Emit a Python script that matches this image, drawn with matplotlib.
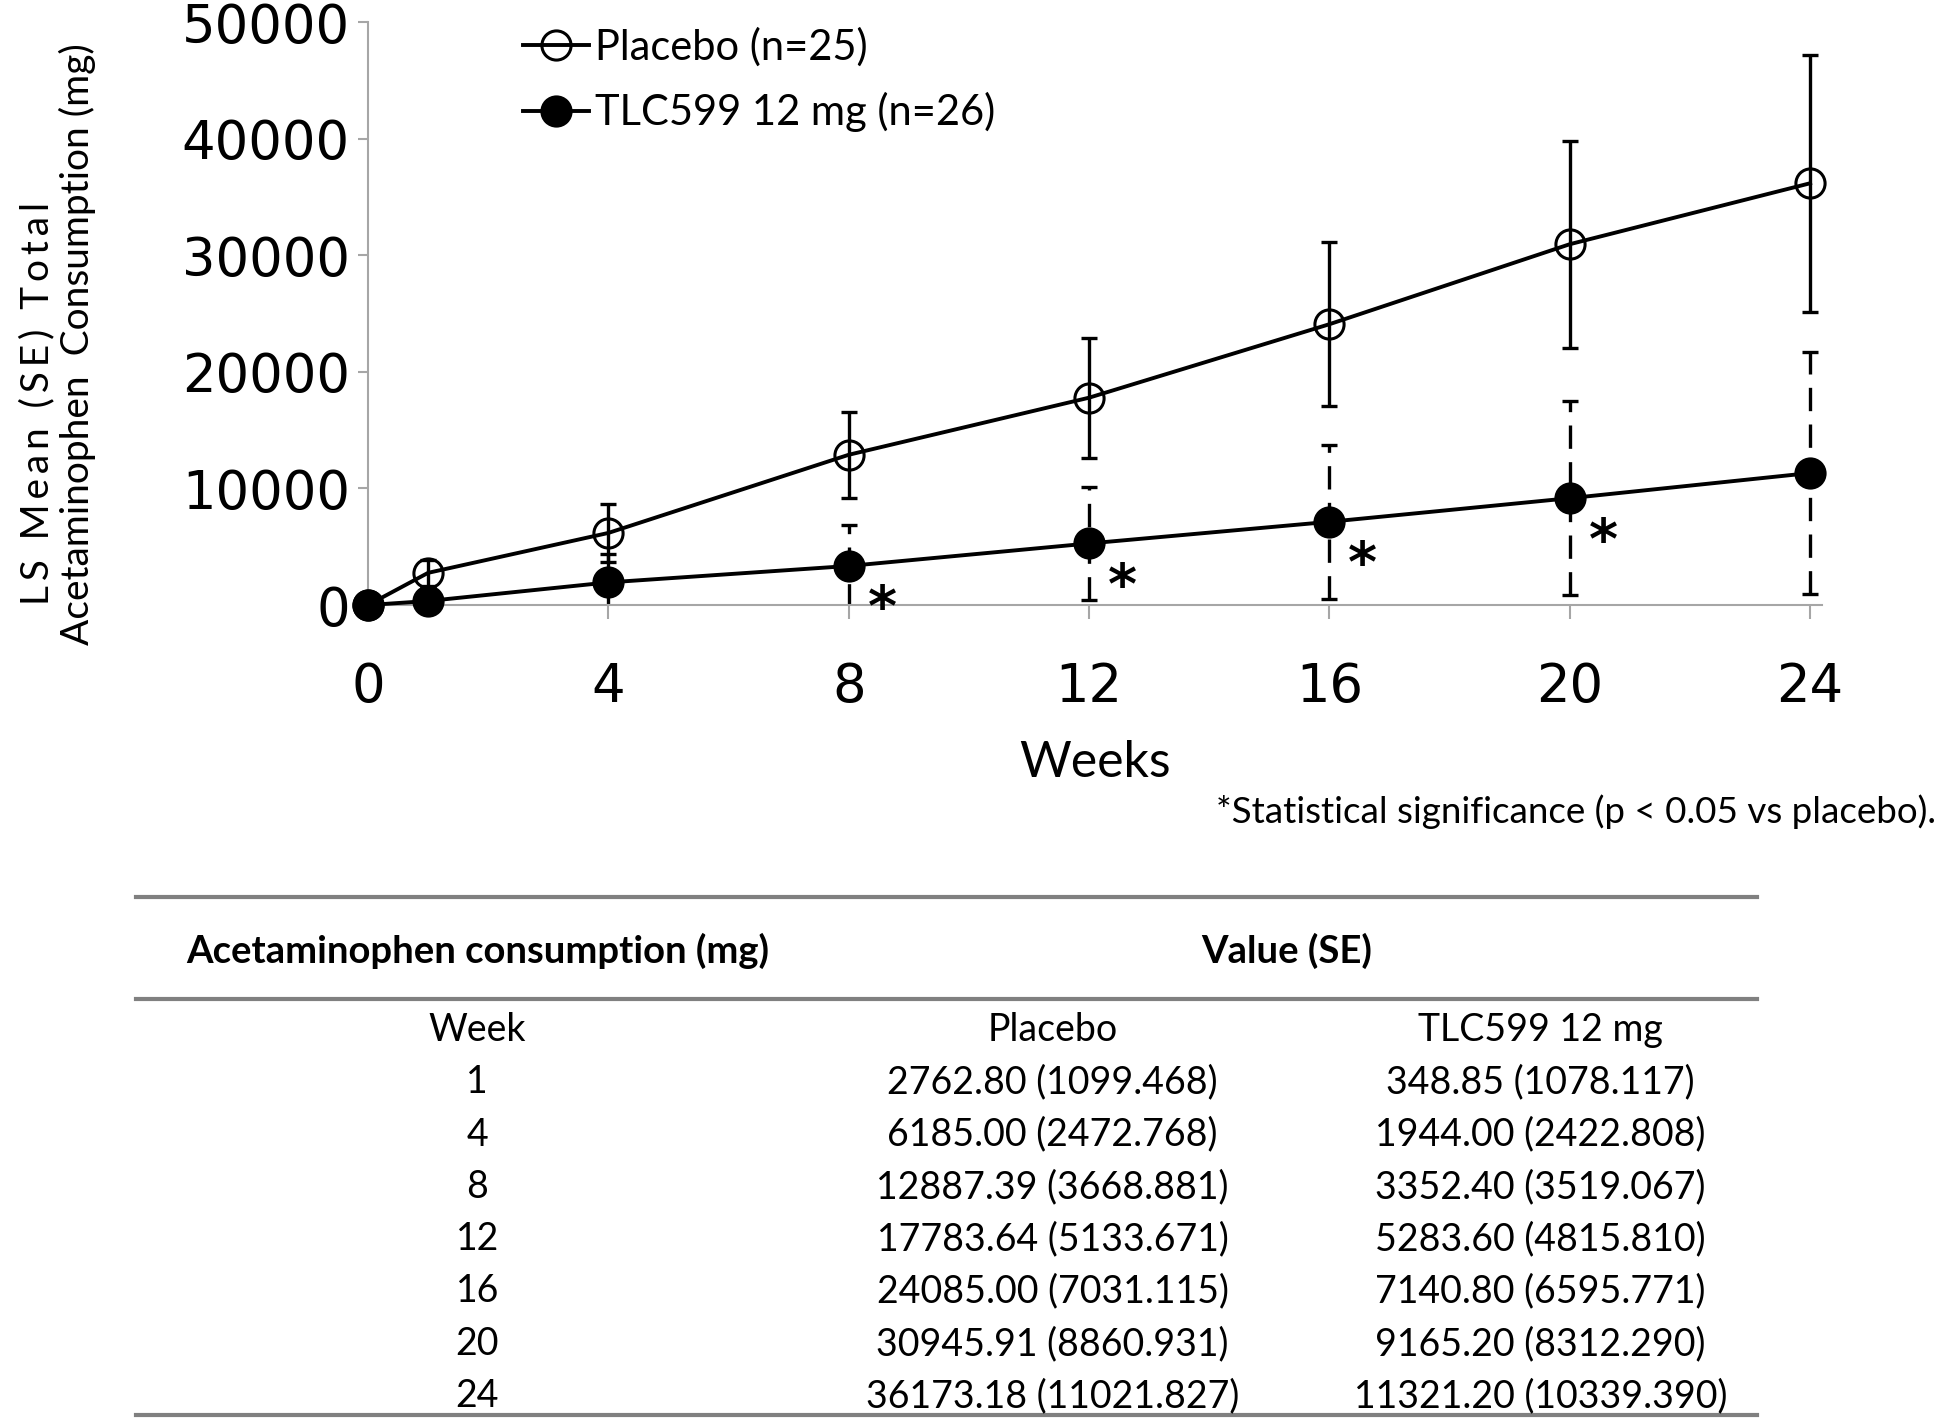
import matplotlib.pyplot as plt
from matplotlib.lines import Line2D

# data
weeks = [1, 4, 8, 12, 16, 20, 24]
placebo_mean = [2762.80, 6185.00, 12887.39, 17783.64, 24085.00, 30945.91, 36173.18]
placebo_se = [1099.468, 2472.768, 3668.881, 5133.671, 7031.115, 8860.931, 11021.827]
tlc_mean = [348.85, 1944.00, 3352.40, 5283.60, 7140.80, 9165.20, 11321.20]
tlc_se = [1078.117, 2422.808, 3519.067, 4815.810, 6595.771, 8312.290, 10339.390]
significant_weeks = [8, 12, 16, 20]
x_ticks = [0, 4, 8, 12, 16, 20, 24]
y_ticks = [0, 10000, 20000, 30000, 40000, 50000]

FONT = ['Lato', 'DejaVu Sans']
WIDE = ['DejaVu Sans']


def spaced(s):
    # loose letter spacing, as in the original axis title
    return '\u2009'.join(s)


def main():
    plt.rcParams['font.family'] = FONT
    fig = plt.figure(figsize=(19.44, 14.22), dpi=100)
    ax = fig.add_axes([0.1893, 0.5745, 0.748, 0.41])

    # week 0 baseline
    wk = [0] + weeks
    pm = [0] + placebo_mean
    ps = [0] + placebo_se
    tm = [0] + tlc_mean
    ts = [0] + tlc_se

    # error bars
    ax.errorbar(wk, pm, yerr=ps, fmt='none', ecolor='black', elinewidth=2.4,
                capsize=6, capthick=2.4, zorder=2)
    eb2 = ax.errorbar(wk, tm, yerr=ts, fmt='none', ecolor='black', elinewidth=2.4,
                      capsize=6, capthick=2.4, zorder=2)
    for c in eb2[2]:
        c.set_linestyle((0, (7, 4)))

    ax.plot(wk, pm, '-o', color='black', lw=2.8, ms=21, mfc='none', mew=2.2,
            clip_on=False, zorder=3, label='Placebo (n=25)')
    ax.plot(wk, tm, '-o', color='black', lw=2.8, ms=21, mfc='black', mew=2.2,
            clip_on=False, zorder=3, label='TLC599 12 mg (n=26)')

    # significance stars
    for w in significant_weeks:
        i = wk.index(w)
        ax.annotate('*', (w, tm[i]), xytext=(24, -32), textcoords='offset points',
                    ha='center', va='center', fontsize=40, fontweight='bold',
                    family=WIDE)

    ax.set_xlim(0, 24.2)
    ax.set_ylim(0, 50000)
    ax.set_xticks(x_ticks)
    ax.set_yticks(y_ticks)
    for s in ['top', 'right']:
        ax.spines[s].set_visible(False)
    for s in ['left', 'bottom']:
        ax.spines[s].set_color('#a6a6a6')
        ax.spines[s].set_linewidth(1.5)
    ax.tick_params(axis='x', colors='#a6a6a6', length=10, width=1.5, pad=30,
                   labelsize=38, labelcolor='black')
    ax.tick_params(axis='y', colors='#a6a6a6', length=7, width=1.5, pad=6,
                   labelsize=38, labelcolor='black')
    for lab in ax.get_xticklabels() + ax.get_yticklabels():
        lab.set_family(WIDE)
    ax.set_xlabel('Weeks', fontsize=36, labelpad=20)

    fig.text(0.019, 0.5745, spaced('LS Mean (SE) Total'), rotation=90, fontsize=28,
             ha='center', va='bottom')
    fig.text(0.040, 0.5464, 'Acetaminophen  Consumption (mg)', rotation=90,
             fontsize=28, ha='center', va='bottom')

    fig.legend(loc='upper left', bbox_to_anchor=(0.2495, 1.0075), frameon=False,
               fontsize=30, handlelength=1.6, handletextpad=0.15, labelspacing=0.62)

    fig.text(0.996, 0.429, '*Statistical significance (p < 0.05 vs placebo).',
             ha='right', va='center', fontsize=26.5)

    # table
    def hline(y, lw=3):
        fig.add_artist(Line2D([0.070, 0.904], [y, y], color='#808080', lw=lw,
                              transform=fig.transFigure))
    hline(1 - 897 / 1422)
    hline(1 - 999 / 1422)
    hline(1 - 1415 / 1422)

    y_head = 1 - 951 / 1422
    fig.text(0.2455, y_head, 'Acetaminophen consumption (mg)', ha='center', va='center',
             fontsize=27.5, fontweight='bold')
    fig.text(0.662, y_head, 'Value (SE)', ha='center', va='center',
             fontsize=27.5, fontweight='bold')

    cols = [0.2455, 0.5415, 0.7925]
    y0 = 1 - 1030 / 1422
    dy = 52.3 / 1422
    for x, t in zip(cols, ['Week', 'Placebo', 'TLC599 12 mg']):
        fig.text(x, y0, t, ha='center', va='center', fontsize=27)
    for r, w in enumerate(weeks):
        y = y0 - (r + 1) * dy
        fig.text(cols[0], y, str(w), ha='center', va='center', fontsize=27)
        fig.text(cols[1], y, f'{placebo_mean[r]:.2f} ({placebo_se[r]:.3f})',
                 ha='center', va='center', fontsize=27)
        fig.text(cols[2], y, f'{tlc_mean[r]:.2f} ({tlc_se[r]:.3f})',
                 ha='center', va='center', fontsize=27)

    fig.savefig('out.png', dpi=100)
    plt.close(fig)


if __name__ == '__main__':
    main()
